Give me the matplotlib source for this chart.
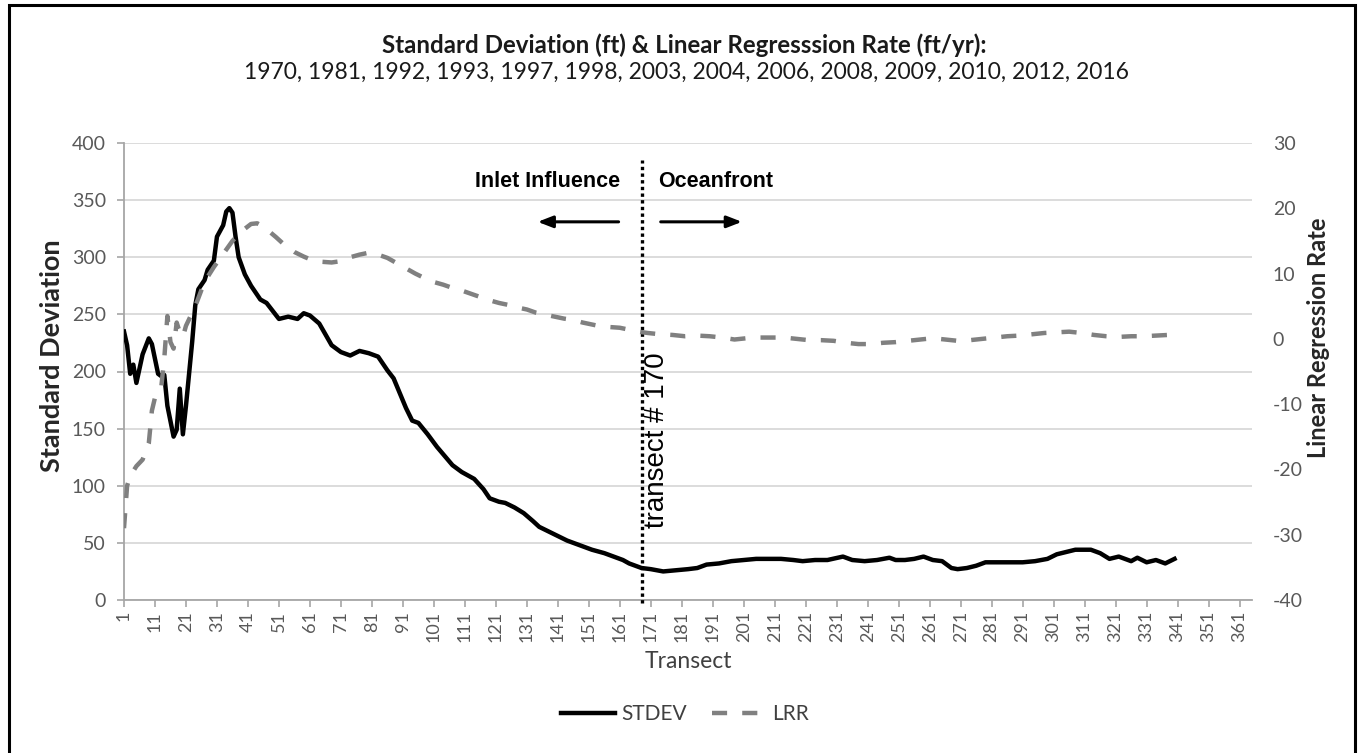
import matplotlib.pyplot as plt
from matplotlib.patches import Rectangle

# STDEV (left axis, ft)
stdev_t = [1, 2, 3, 4, 5, 7, 9, 10, 12, 13, 14, 15, 17, 18, 19, 20, 21, 23, 24, 25,
           27, 28, 30, 31, 33, 34, 35, 36, 37, 38, 40, 42, 45, 47, 49, 51, 54, 57, 59, 61,
           64, 68, 71, 74, 77, 80, 83, 86, 88, 90, 92, 94, 96, 99, 102, 107, 110, 114, 117, 119,
           122, 124, 127, 130, 133, 135, 138, 141, 144, 146, 149, 152, 156, 159, 162, 164, 166, 168, 171, 175,
           179, 183, 186, 189, 193, 197, 201, 205, 209, 213, 217, 220, 224, 228, 233, 236, 240, 244, 248, 250,
           253, 256, 259, 262, 265, 268, 270, 273, 276, 279, 283, 287, 291, 295, 299, 302, 305, 308, 313, 316,
           319, 322, 326, 328, 331, 334, 337, 340]
stdev_v = [235, 223, 198, 206, 190, 215, 229, 224, 198, 196, 197, 170, 143, 149, 185, 145, 170, 226, 258, 272,
           280, 289, 297, 318, 328, 340, 343, 339, 318, 300, 285, 275, 263, 260, 253, 246, 248, 246, 251, 249,
           242, 223, 217, 214, 218, 216, 213, 201, 194, 181, 168, 157, 155, 145, 134, 118, 112, 106, 97, 89,
           86, 85, 81, 76, 69, 64, 60, 56, 52, 50, 47, 44, 41, 38, 35, 32, 30, 28, 27, 25,
           26, 27, 28, 31, 32, 34, 35, 36, 36, 36, 35, 34, 35, 35, 38, 35, 34, 35, 37, 35,
           35, 36, 38, 35, 34, 28, 27, 28, 30, 33, 33, 33, 33, 34, 36, 40, 42, 44, 44, 41,
           36, 38, 34, 37, 33, 35, 32, 36]

# LRR (right axis, ft/yr)
lrr_t = [1, 2, 3, 5, 7, 9, 10, 11, 13, 14, 15, 16, 17, 18, 19, 20, 21, 22, 24, 26,
         28, 30, 33, 36, 39, 42, 44, 46, 48, 50, 53, 56, 59, 62, 65, 68, 71, 74, 77, 80,
         83, 86, 89, 92, 95, 98, 101, 104, 107, 110, 113, 116, 119, 122, 125, 128, 131, 134, 137, 140,
         143, 146, 149, 152, 155, 158, 161, 164, 167, 170, 174, 178, 182, 186, 190, 194, 198, 202, 206, 210,
         214, 218, 222, 226, 230, 234, 238, 242, 246, 250, 254, 258, 262, 266, 270, 274, 278, 282, 286, 290,
         294, 298, 302, 306, 310, 314, 318, 322, 326, 330, 334, 338, 341]
lrr_v = [-29, -22.5, -21, -19.5, -18.5, -16, -11, -9, -7.5, -3, 3.5, -0.5, -1.5, 2.5, 1, 0.3, 2, 3, 5, 7.5,
         9.5, 11, 13, 15, 16.5, 17.6, 17.7, 17.2, 16.4, 15.6, 14.3, 13.3, 12.6, 12, 11.8, 11.7, 11.9, 12.5, 12.9, 13.2,
         12.9, 12.4, 11.6, 10.8, 10, 9.3, 8.7, 8.3, 7.8, 7.4, 6.9, 6.4, 5.9, 5.5, 5.2, 4.8, 4.5, 4.0, 3.7, 3.4,
         3.1, 2.9, 2.5, 2.2, 1.9, 1.8, 1.7, 1.4, 1.1, 0.9, 0.7, 0.6, 0.4, 0.5, 0.4, 0.2, -0.1, 0.1, 0.2, 0.2,
         0.2, 0, -0.2, -0.2, -0.3, -0.6, -0.8, -0.8, -0.6, -0.5, -0.3, -0.1, 0.1, -0.1, -0.3, -0.2, 0, 0.2, 0.4, 0.5,
         0.7, 0.9, 1.0, 1.1, 0.9, 0.6, 0.4, 0.3, 0.4, 0.4, 0.5, 0.6, 0.6]

xticks = list(range(1, 362, 10))
divide_t = 168

plt.rcParams['font.family'] = ['Lato', 'DejaVu Sans']
plt.rcParams['axes.unicode_minus'] = False
tick_col = '#595959'

fig = plt.figure(figsize=(13.59, 7.53), dpi=100)
fig.patches.append(Rectangle((9/1359, -0.01), 1346/1359, 1 - 5/753 + 0.01, transform=fig.transFigure,
                             fill=False, ec='black', lw=2.2))

ax = fig.add_axes([124/1359, 1 - 600/753, 1128/1359, 457/753])
ax2 = ax.twinx()

ax.plot(stdev_t, stdev_v, color='black', lw=3.2, solid_joinstyle='round', zorder=3)
ax2.plot(lrr_t, lrr_v, color='#808080', lw=3.2, dashes=(3.4, 3.4), zorder=2)

ax.set_xlim(1, 365)
ax.set_ylim(0, 400)
ax.set_yticks(range(0, 401, 50))
ax2.set_ylim(-40, 30)
ax2.set_yticks(range(-40, 31, 10))
ax.set_xticks(xticks)
ax.set_xticklabels([str(t) for t in xticks], rotation=90)

ax.yaxis.grid(True, color='#d9d9d9', lw=1.3)
ax.set_axisbelow(True)
for s in ['top', 'right']:
    ax.spines[s].set_visible(False)
for s in ax2.spines.values():
    s.set_visible(False)
ax.spines['left'].set_color('#a6a6a6')
ax.spines['bottom'].set_color('#a6a6a6')
ax.spines['left'].set_linewidth(1.3)
ax.spines['bottom'].set_linewidth(1.3)
ax.tick_params(axis='both', colors='#a6a6a6', labelcolor=tick_col, labelsize=14, length=5, width=1.2)
ax.tick_params(axis='y', pad=8)
ax.tick_params(axis='x', pad=3, labelsize=13)
ax2.tick_params(axis='y', length=0, labelcolor=tick_col, labelsize=14, pad=15)

ax.set_ylabel('Standard Deviation', fontsize=19.5, fontweight='bold', color='#262626')
ax.yaxis.set_label_coords(-0.053, 0.534)
ax2.set_ylabel('Linear Regression Rate', fontsize=17, fontweight='bold', color='#262626')
ax2.yaxis.set_label_coords(1.049, 0.573)
ax.set_xlabel('Transect', fontsize=16.5, color='#404040', labelpad=6)

# divider and annotations
ax.vlines(divide_t, -3, 385, colors='black', linestyles=(0, (1, 1)), lw=2.4, clip_on=False, zorder=4)
arial = ['Liberation Sans', 'DejaVu Sans']
ax.text(161, 366, 'Inlet Influence', ha='right', va='center', fontsize=15.5, fontweight='bold', family=arial)
ax.text(173.5, 366, 'Oceanfront', ha='left', va='center', fontsize=15.5, fontweight='bold', family=arial)
ax.annotate('', xy=(133.6, 331), xytext=(161.5, 331),
            arrowprops=dict(arrowstyle='-|>,head_length=0.9,head_width=0.35', color='black', lw=2.2))
ax.annotate('', xy=(201.3, 331), xytext=(173.3, 331),
            arrowprops=dict(arrowstyle='-|>,head_length=0.9,head_width=0.35', color='black', lw=2.2))
ax.text(172.9, 140, 'transect # 170', rotation=90, ha='center', va='center', fontsize=20, family=arial)

fig.text(684.5/1359, 1 - 45/753, 'Standard Deviation (ft) & Linear Regresssion Rate (ft/yr):',
         ha='center', va='center', fontsize=17.4, fontweight='bold', color='#1a1a1a')
fig.text(686.5/1359, 1 - 72/753, '1970, 1981, 1992, 1993, 1997, 1998, 2003, 2004, 2006, 2008, 2009, 2010, 2012, 2016',
         ha='center', va='center', fontsize=16.5, color='#1a1a1a')

h1, = ax.plot([], [], color='black', lw=3.2)
h2, = ax.plot([], [], color='#808080', lw=3.2, dashes=(3.4, 3.4))
fig.legend([h1, h2], ['STDEV', 'LRR'], loc='center', bbox_to_anchor=(685/1359, 1 - 714/753), ncol=2,
           frameon=False, fontsize=15, handlelength=2.6, handletextpad=0.3, columnspacing=1.2,
           labelcolor='#404040')

fig.savefig('out.png', dpi=100)
